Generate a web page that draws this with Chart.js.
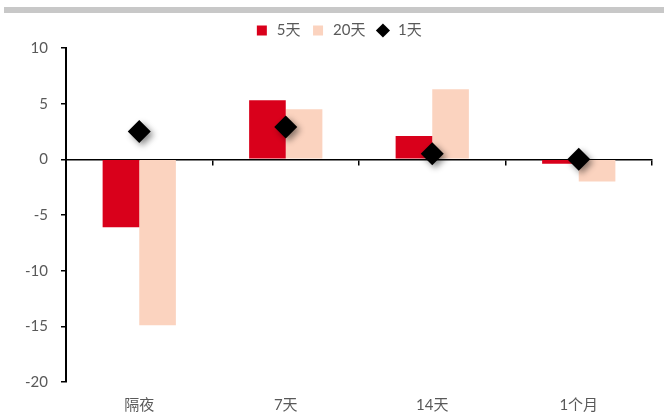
<!DOCTYPE html>
<html>
<head>
<meta charset="utf-8">
<script src="https://cdn.jsdelivr.net/npm/chart.js@4"></script>
<style>
	body { margin: 0; background: #fff; }
	#wrap { position: relative; width: 664px; height: 419px; }
	#band { position: absolute; left: 4px; top: 7px; width: 660px; height: 6px; background: #c8c8c8; }
</style>
</head>
<body>
<div id="wrap">
	<div id="band"></div>
	<canvas id="myChart" width="664" height="419"></canvas>
</div>
<script>
var labels = ['隔夜', '7天', '14天', '1个月']
var fiveDay = [-6.1, 5.3, 2.1, -0.4]
var twentyDay = [-14.9, 4.5, 6.3, -2.0]
var oneDay = [2.5, 2.9, 0.5, 0.0]
var yTicks = { min: -20, max: 10, step: 5 }

var textColor = '#595959'
Chart.defaults.font.family = 'Lato, "Noto Sans CJK SC", sans-serif'
Chart.defaults.color = textColor

// soft drop shadow under the diamond markers
var diamondShadow = {
	id: 'diamondShadow',
	beforeDatasetDraw: function(chart, args) {
		if (args.meta.type !== 'line') return
		var ctx = chart.ctx
		ctx.save()
		ctx.shadowColor = 'rgba(0, 0, 0, 0.45)'
		ctx.shadowBlur = 6
		ctx.shadowOffsetX = 3
		ctx.shadowOffsetY = 3
	},
	afterDatasetDraw: function(chart, args) {
		if (args.meta.type !== 'line') return
		chart.ctx.restore()
	}
}

var ctx = document.getElementById('myChart')
window.myChart = new Chart(ctx, {
	type: 'bar',
	data: {
		labels: labels,
		datasets: [{
			label: '5天',
			data: fiveDay,
			backgroundColor: '#d9001b',
			pointStyle: 'rect',
			order: 1
		}, {
			label: '20天',
			data: twentyDay,
			backgroundColor: '#fbd3bf',
			pointStyle: 'rect',
			order: 1
		}, {
			type: 'line',
			label: '1天',
			data: oneDay,
			showLine: false,
			pointStyle: 'rectRot',
			pointRadius: 11.5,
			pointHoverRadius: 11.5,
			pointBorderWidth: 0,
			backgroundColor: '#000',
			borderColor: '#000',
			order: 0
		}]
	},
	options: {
		responsive: false,
		animation: false,
		categoryPercentage: 0.5,
		barPercentage: 1.0,
		layout: { padding: { left: 24, right: 12, top: 13, bottom: 0 } },
		plugins: {
			tooltip: { enabled: false },
			legend: {
				position: 'top',
				labels: {
					usePointStyle: true,
					boxHeight: 10,
					padding: 10,
					color: textColor,
					font: { size: 15 },
					// keep dataset order, not draw order
					sort: function(a, b) { return a.datasetIndex - b.datasetIndex }
				}
			}
		},
		scales: {
			x: {
				position: 'bottom',
				offset: true,
				grid: { display: false, drawTicks: false },
				border: { display: false },
				ticks: { padding: 14, color: textColor, font: { size: 15 } },
				afterFit: function(s) { s.height = 37 }
			},
			// zero line with tick marks between the categories
			x2: {
				type: 'category',
				labels: labels,
				position: { y: 0 },
				offset: true,
				grid: { offset: true, drawOnChartArea: false, drawTicks: true, tickLength: 5, color: '#000', lineWidth: 1.5 },
				border: { display: true, color: '#000', width: 1.5 },
				ticks: { display: false }
			},
			y: {
				min: yTicks.min,
				max: yTicks.max,
				ticks: { stepSize: yTicks.step, padding: 13, color: textColor, font: { size: 15 } },
				grid: { drawOnChartArea: false, drawTicks: true, tickLength: 5, color: '#000', lineWidth: 1.5 },
				border: { display: true, color: '#000', width: 2 },
				afterFit: function(s) { s.width = 42 }
			}
		}
	},
	plugins: [diamondShadow]
})
</script>
</body>
</html>
